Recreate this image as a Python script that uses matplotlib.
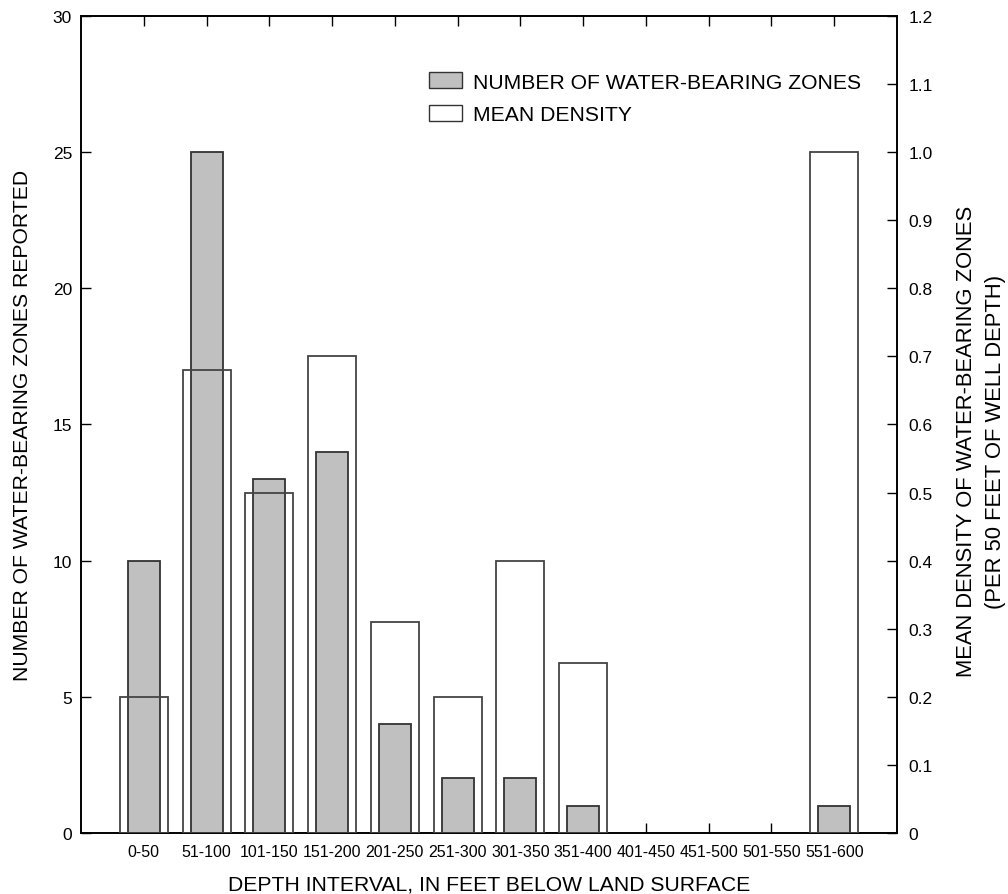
import matplotlib
matplotlib.use("Agg")
import matplotlib.pyplot as plt
from matplotlib import font_manager as fm
from matplotlib.patches import Patch
import numpy as np

categories = ["0-50", "51-100", "101-150", "151-200", "201-250", "251-300",
              "301-350", "351-400", "401-450", "451-500", "501-550", "551-600"]
num_zones = [10, 25, 13, 14, 4, 2, 2, 1, 0, 0, 0, 1]
mean_density = [0.20, 0.68, 0.50, 0.70, 0.31, 0.20, 0.40, 0.25, 0, 0, 0, 1.00]
left_ticks = [0, 5, 10, 15, 20, 25, 30]
right_ticks = [0, 0.1, 0.2, 0.3, 0.4, 0.5, 0.6, 0.7, 0.8, 0.9, 1.0, 1.1, 1.2]
right_labels = ["0", "0.1", "0.2", "0.3", "0.4", "0.5", "0.6", "0.7", "0.8",
                "0.9", "1.0", "1.1", "1.2"]

avail = {f.name for f in fm.fontManager.ttflist}
narrow = "Liberation Sans Narrow" if "Liberation Sans Narrow" in avail else "Liberation Sans"
plt.rcParams['font.family'] = ['Liberation Sans', 'DejaVu Sans']

fig = plt.figure(figsize=(10.08, 8.95), dpi=100)
ax = fig.add_axes([0.0804, 0.0682, 0.8095, 0.9128])
ax2 = ax.twinx()

x = np.arange(len(categories))
nz = [v if v > 0 else np.nan for v in num_zones]
md = [v if v > 0 else np.nan for v in mean_density]
ax.bar(x, nz, width=0.51, color="#c0c0c0", edgecolor="#333333",
       linewidth=1.3, zorder=2)
ax2.bar(x, md, width=0.764, fill=False, edgecolor="#444444",
        linewidth=1.3, zorder=3)

ax.set_xlim(-1.0, 12.0)
ax.set_ylim(0, 30)
ax2.set_ylim(0, 1.2)
ax.set_yticks(left_ticks)
ax.set_yticklabels([str(t) for t in left_ticks])
ax2.set_yticks(right_ticks)
ax2.set_yticklabels(right_labels)
ax.set_xticks(x)
ax.set_xticklabels(categories, fontfamily=narrow, fontsize=11.5)

ax.tick_params(axis='x', direction='in', length=7, width=1, top=True, pad=8)
ax.tick_params(axis='y', direction='in', length=7, width=1, labelsize=12.5, pad=6.5)
ax2.tick_params(axis='y', direction='in', length=7, width=1, labelsize=12.5, pad=8)
for a in (ax, ax2):
    for s in a.spines.values():
        s.set_linewidth(1.2)

ax.set_xlabel("DEPTH INTERVAL, IN FEET BELOW LAND SURFACE", fontsize=15.2, labelpad=11)
ax.set_ylabel("NUMBER OF WATER-BEARING ZONES REPORTED", fontsize=15.2)
ax.yaxis.set_label_coords(-0.0607, 0.5)
ax2.set_ylabel("MEAN DENSITY OF WATER-BEARING ZONES\n(PER 50 FEET OF WELL DEPTH)",
               fontsize=15.8, linespacing=1.5)
ax2.yaxis.set_label_coords(1.072, 0.48)

handles = [Patch(facecolor="#c0c0c0", edgecolor="#333333", linewidth=1.0),
           Patch(facecolor="white", edgecolor="#333333", linewidth=1.0)]
ax2.legend(handles, ["NUMBER OF WATER-BEARING ZONES", "MEAN DENSITY"],
           loc="upper left", bbox_to_anchor=(0.4265, 0.931), frameon=False,
           fontsize=15.2, handlelength=1.56, handleheight=0.78,
           handletextpad=0.52, labelspacing=0.62, borderaxespad=0, borderpad=0)

fig.savefig("out.png", dpi=100)
